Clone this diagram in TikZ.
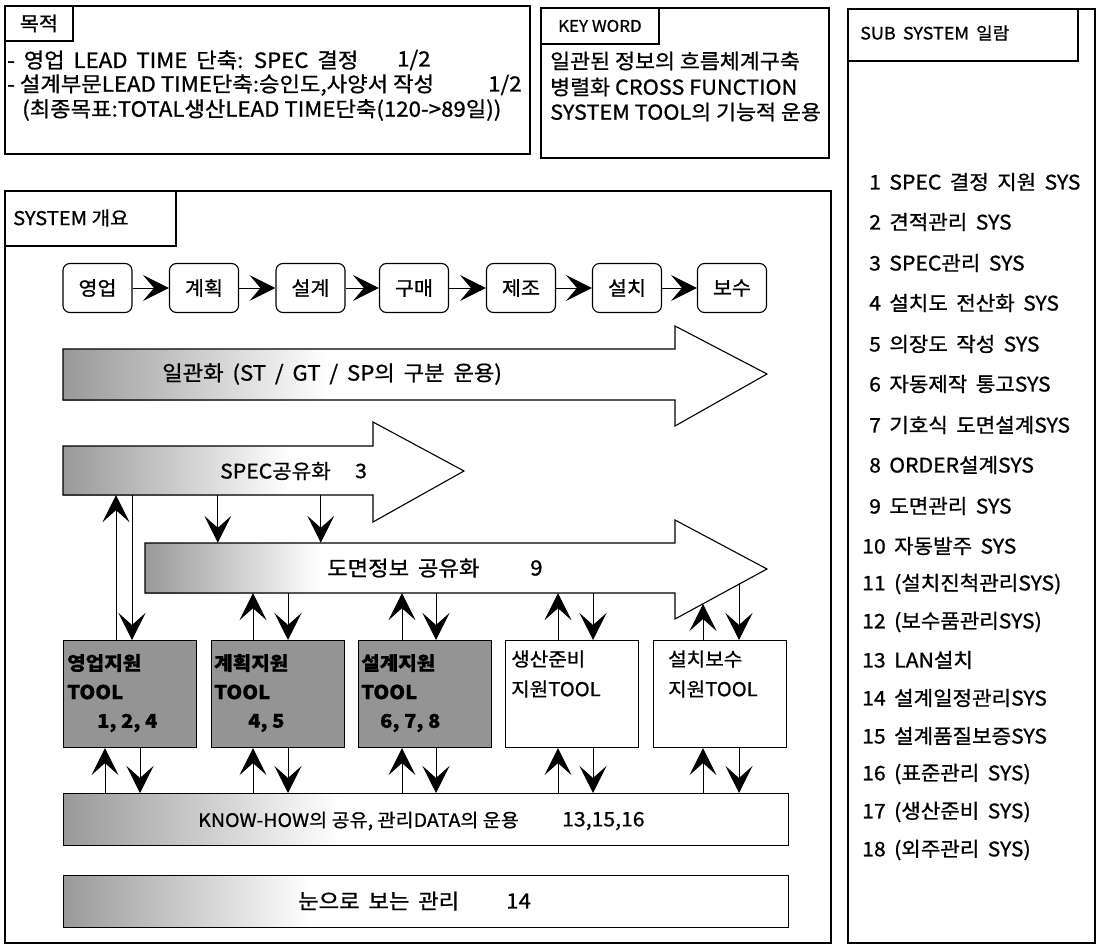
\documentclass[tikz,border=0pt]{standalone}
\usepackage{fontspec}
\setmainfont{Noto Sans CJK KR}[FakeBold=0.9, FakeStretch=1.06]
\usetikzlibrary{arrows.meta}
\tikzset{
  frame/.style={draw=black, line width=1.8pt, inner sep=0pt},
  thinline/.style={draw=black, line width=1.1pt},
  lbl/.style={inner sep=0pt, anchor=west, text=black},
  widesp/.style={execute at begin node={\spaceskip=0.42em plus 0.1em\relax}},
  fa/.style={font=\fontsize{21}{25}\selectfont},
  fl/.style={font=\fontsize{20}{24}\selectfont},
  fb/.style={font=\fontsize{19}{23}\selectfont},
  fc/.style={font=\fontsize{17}{20}\selectfont},
  ft/.style={font=\fontsize{19}{23}\selectfont\bfseries},
  proc/.style={draw=black, line width=1.1pt, rounded corners=7pt, minimum width=69pt, minimum height=49pt, inner sep=0pt, font=\fontsize{19.5}{23}\selectfont},
  toolbox/.style={draw=black, line width=1.1pt, minimum width=133pt, minimum height=107pt, inner sep=0pt},
  darktool/.style={toolbox, fill=black!42},
  barbox/.style={draw=black, line width=1.1pt, minimum width=725pt, minimum height=52pt, inner sep=0pt},
  va/.style={line width=1pt, -{Stealth[length=27pt, width=27pt, inset=12pt]}},
  pa/.style={line width=1pt, -{Stealth[length=26pt, width=26pt, inset=11pt]}},
}
\begin{document}
\begin{tikzpicture}[x=1pt, y=-1pt]
\useasboundingbox[fill=white] (0,0) rectangle (1098,944);

% ---------- 목적 ----------
\node[frame, minimum width=525pt, minimum height=148pt, anchor=north west] (goalbox) at (4,5) {};
\node[frame, minimum width=68pt, minimum height=35pt, anchor=north west, font=\fontsize{19.5}{23}\selectfont] (goaltab) at (4,5) {목적};
\node[lbl, fa, widesp] (g1) at (7,60) {- 영업 LEAD TIME 단축: SPEC 결정};
\node[lbl, fa] (g1n) at (397,60) {1/2};
\node[lbl, fa] (g2) at (7,85) {- 설계부문LEAD TIME단축:승인도,사양서 작성};
\node[lbl, fa] (g2n) at (488,85) {1/2};
\node[lbl, fa] (g3) at (22,110) {(최종목표:TOTAL생산LEAD TIME단축(120->89일))};

% ---------- KEY WORD ----------
\node[frame, minimum width=288pt, minimum height=150pt, anchor=north west] (kwbox) at (540,7) {};
\node[frame, minimum width=118pt, minimum height=36pt, anchor=north west, font=\fontsize{16}{19}\selectfont] (kwtab) at (540,7) {KEY WORD};
\node[lbl, font=\fontsize{20.5}{24}\selectfont] (k1) at (550,61) {일관된 정보의 흐름체계구축};
\node[lbl, font=\fontsize{20.5}{24}\selectfont] (k2) at (550,87) {병렬화 CROSS FUNCTION};
\node[lbl, font=\fontsize{20.5}{24}\selectfont] (k3) at (550,112) {SYSTEM TOOL의 기능적 운용};

% ---------- SUB SYSTEM ----------
\node[frame, minimum width=247pt, minimum height=934pt, anchor=north west] (subbox) at (847,8) {};
\node[frame, minimum width=230pt, minimum height=52pt, anchor=north west] (subtab) at (847,8) {};
\node[lbl, fc, widesp] (subt) at (860,33) {SUB SYSTEM 일람};
\node[lbl, fl, widesp] (s1) at (869,182) {1 SPEC 결정 지원 SYS};
\node[lbl, fl, widesp] (s2) at (869,222) {2 견적관리 SYS};
\node[lbl, fl, widesp] (s3) at (869,263) {3 SPEC관리 SYS};
\node[lbl, fl, widesp] (s4) at (869,303) {4 설치도 전산화 SYS};
\node[lbl, fl, widesp] (s5) at (869,344) {5 의장도 작성 SYS};
\node[lbl, fl, widesp] (s6) at (869,384) {6 자동제작 통고SYS};
\node[lbl, fl, widesp] (s7) at (869,425) {7 기호식 도면설계SYS};
\node[lbl, fl, widesp] (s8) at (869,465) {8 ORDER설계SYS};
\node[lbl, fl, widesp] (s9) at (869,506) {9 도면관리 SYS};
\node[lbl, fl, widesp] (s10) at (862,546) {10 자동발주 SYS};
\node[lbl, fl, widesp] (s11) at (862,584) {11 (설치진척관리SYS)};
\node[lbl, fl, widesp] (s12) at (862,622) {12 (보수품관리SYS)};
\node[lbl, fl, widesp] (s13) at (862,660) {13 LAN설치};
\node[lbl, fl, widesp] (s14) at (862,698) {14 설계일정관리SYS};
\node[lbl, fl, widesp] (s15) at (862,736) {15 설계품질보증SYS};
\node[lbl, fl, widesp] (s16) at (862,774) {16 (표준관리 SYS)};
\node[lbl, fl, widesp] (s17) at (862,812) {17 (생산준비 SYS)};
\node[lbl, fl, widesp] (s18) at (862,850) {18 (외주관리 SYS)};

% ---------- SYSTEM 개요 ----------
\node[frame, minimum width=826pt, minimum height=752pt, anchor=north west] (sysbox) at (4,190) {};
\node[frame, minimum width=171pt, minimum height=55pt, anchor=north west] (systab) at (4,190) {};
\node[lbl, font=\fontsize{19}{23}\selectfont] (syst) at (13,218) {SYSTEM 개요};

% process row
\node[proc] (p1) at (97.5,288) {영업};
\node[proc] (p2) at (204,288) {계획};
\node[proc] (p3) at (310.5,288) {설계};
\node[proc] (p4) at (414,288) {구매};
\node[proc] (p5) at (521,288) {제조};
\node[proc] (p6) at (627,288) {설치};
\node[proc] (p7) at (732,288) {보수};
\draw[pa] (p1) -- (p2);
\draw[pa] (p2) -- (p3);
\draw[pa] (p3) -- (p4);
\draw[pa] (p4) -- (p5);
\draw[pa] (p5) -- (p6);
\draw[pa] (p6) -- (p7);

% arrow 1 : 일관화
\fill[white] (63,349) -- (675,349) -- (675,326) -- (767,374) -- (675,426) -- (675,400) -- (63,400) -- cycle;
\shade[left color=black!40, right color=white] (63,349) rectangle (330,400);
\draw[thinline] (63,349) -- (675,349) -- (675,326) -- (767,374) -- (675,426) -- (675,400) -- (63,400) -- cycle;
\node[lbl, fa, widesp] (a1t) at (162,374) {일관화 (ST / GT / SP의 구분 운용)};

% arrow 2 : SPEC공유화
\node[inner sep=0pt, minimum width=310pt, minimum height=49pt] (spec) at (218,470.5) {};
\fill[white] (63,446) -- (373,446) -- (373,422) -- (464,471) -- (373,522) -- (373,495) -- (63,495) -- cycle;
\shade[left color=black!40, right color=white] (63,446) rectangle (290,495);
\draw[thinline] (63,446) -- (373,446) -- (373,422) -- (464,471) -- (373,522) -- (373,495) -- (63,495) -- cycle;
\node[lbl, fl] (spect) at (220,471) {SPEC공유화};
\node[lbl, fl] (spec3) at (355,471) {3};

% arrow 3 : 도면정보 공유화
\node[inner sep=0pt, minimum width=530pt, minimum height=50pt] (dm) at (410,568) {};
\fill[white] (145,543) -- (675,543) -- (675,520) -- (767,569) -- (675,619) -- (675,593) -- (145,593) -- cycle;
\shade[left color=black!40, right color=white] (145,543) rectangle (320,593);
\draw[thinline] (145,543) -- (675,543) -- (675,520) -- (767,569) -- (675,619) -- (675,593) -- (145,593) -- cycle;
\node[lbl, fa, widesp] (dmt) at (327,568) {도면정보 공유화};
\node[lbl, fa] (dm9) at (530,568) {9};
\coordinate (dmh1) at (703,604);
\coordinate (dmh2) at (739,584);

% tool boxes
\node[darktool, anchor=north west] (t1) at (63,640) {};
\node[darktool, anchor=north west] (t2) at (211,640) {};
\node[darktool, anchor=north west] (t3) at (358,640) {};
\node[toolbox, anchor=north west] (t4) at (505,640) {};
\node[toolbox, anchor=north west] (t5) at (653,640) {};
\node[lbl, ft] (t1a) at (67,663) {영업지원};
\node[lbl, ft] (t1b) at (67,692) {TOOL};
\node[lbl, ft] (t1c) at (97,723) {1, 2, 4};
\node[lbl, ft] (t2a) at (214,663) {계획지원};
\node[lbl, ft] (t2b) at (214,692) {TOOL};
\node[lbl, ft] (t2c) at (248,723) {4, 5};
\node[lbl, ft] (t3a) at (361,663) {설계지원};
\node[lbl, ft] (t3b) at (361,692) {TOOL};
\node[lbl, ft] (t3c) at (380,723) {6, 7, 8};
\node[lbl, fb] (t4a) at (511,659) {생산준비};
\node[lbl, fb] (t4b) at (511,689) {지원TOOL};
\node[lbl, fb] (t5a) at (668,659) {설치보수};
\node[lbl, fb] (t5b) at (668,689) {지원TOOL};

% KNOW-HOW bar
\shade[left color=black!40, right color=white] (63,793) rectangle (340,845);
\node[barbox, anchor=north west] (kh) at (63,793) {};
\node[lbl, font=\fontsize{18.5}{22}\selectfont] (kht) at (198,821) {KNOW-HOW의 공유, 관리DATA의 운용};
\node[lbl, fl] (kh13) at (562,821) {13,15,16};

% 눈으로 보는 관리 bar
\shade[left color=black!40, right color=white] (63,875) rectangle (310,927);
\node[barbox, anchor=north west] (ey) at (63,875) {};
\node[lbl, fa, widesp] (eyt) at (298,901) {눈으로 보는 관리};
\node[lbl, fa] (ey14) at (506,901) {14};

% ---------- vertical connectors ----------
\coordinate (c1u) at ([xshift=53pt]t1.north west);
\coordinate (c1d) at ([xshift=69pt]t1.north west);
\draw[va] (c1u) -- (c1u |- spec.south);
\draw[va] (c1d |- spec.south) -- (c1d);
\coordinate (sd1) at ([xshift=155pt]spec.south west);
\coordinate (sd2) at ([xshift=258pt]spec.south west);
\draw[va] (sd1) -- (sd1 |- dm.north);
\draw[va] (sd2) -- (sd2 |- dm.north);
\coordinate (c2u) at ([xshift=42pt]t2.north west);
\coordinate (c2d) at ([xshift=77pt]t2.north west);
\draw[va] (c2u) -- (c2u |- dm.south);
\draw[va] (c2d |- dm.south) -- (c2d);
\coordinate (c3u) at ([xshift=44pt]t3.north west);
\coordinate (c3d) at ([xshift=78pt]t3.north west);
\draw[va] (c3u) -- (c3u |- dm.south);
\draw[va] (c3d |- dm.south) -- (c3d);
\coordinate (c4u) at ([xshift=53pt]t4.north west);
\coordinate (c4d) at ([xshift=88pt]t4.north west);
\draw[va] (c4u) -- (c4u |- dm.south);
\draw[va] (c4d |- dm.south) -- (c4d);
\coordinate (c5u) at ([xshift=50pt]t5.north west);
\coordinate (c5d) at ([xshift=86pt]t5.north west);
\draw[va] (c5u) -- (dmh1);
\draw[va] (dmh2) -- (c5d);
\coordinate (b1u) at ([xshift=42pt]t1.south west);
\coordinate (b1d) at ([xshift=77pt]t1.south west);
\draw[va] (b1u |- kh.north) -- (b1u);
\draw[va] (b1d) -- (b1d |- kh.north);
\coordinate (b2u) at ([xshift=42pt]t2.south west);
\coordinate (b2d) at ([xshift=77pt]t2.south west);
\draw[va] (b2u |- kh.north) -- (b2u);
\draw[va] (b2d) -- (b2d |- kh.north);
\coordinate (b3u) at ([xshift=44pt]t3.south west);
\coordinate (b3d) at ([xshift=78pt]t3.south west);
\draw[va] (b3u |- kh.north) -- (b3u);
\draw[va] (b3d) -- (b3d |- kh.north);
\coordinate (b4u) at ([xshift=53pt]t4.south west);
\coordinate (b4d) at ([xshift=88pt]t4.south west);
\draw[va] (b4u |- kh.north) -- (b4u);
\draw[va] (b4d) -- (b4d |- kh.north);
\coordinate (b5u) at ([xshift=50pt]t5.south west);
\coordinate (b5d) at ([xshift=86pt]t5.south west);
\draw[va] (b5u |- kh.north) -- (b5u);
\draw[va] (b5d) -- (b5d |- kh.north);
\end{tikzpicture}
\end{document}
